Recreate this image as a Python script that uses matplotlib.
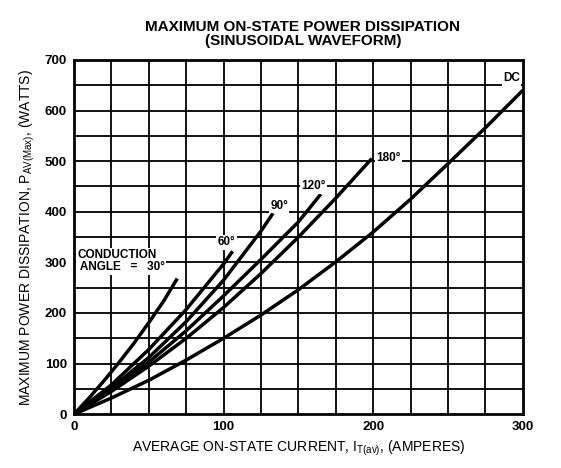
import numpy as np
import matplotlib
matplotlib.use('Agg')
import matplotlib.pyplot as plt

plt.rcParams['font.family'] = ['Liberation Sans', 'DejaVu Sans']

# 讀圖得到的曲線 (電流 A, 功率 W)
x_30 = [0, 10, 20, 30, 40, 50, 60, 69]
y_30 = [0, 32, 66, 102, 140, 181, 224, 268]

x_60 = [0, 25, 50, 75, 100, 106]
y_60 = [0, 58, 128, 207, 297, 322]

x_90 = [0, 25, 50, 75, 100, 125, 133]
y_90 = [0, 52, 112, 183, 265, 362, 397]

x_120 = [0, 25, 50, 75, 100, 125, 150, 165]
y_120 = [0, 48, 103, 165, 234, 306, 380, 435]

x_180 = [0, 25, 50, 75, 100, 125, 150, 175, 199]
y_180 = [0, 45, 95, 150, 211, 278, 350, 427, 505]

x_dc = [0, 25, 50, 75, 100, 125, 150, 175, 200, 225, 250, 275, 300]
y_dc = [0, 32, 67, 107, 150, 196, 246, 301, 360, 425, 495, 566, 640]

x_ticks = [0, 100, 200, 300]
y_ticks = [0, 100, 200, 300, 400, 500, 600, 700]

fig = plt.figure(figsize=(5.61, 4.68), dpi=100)
ax = fig.add_axes([0.132, 0.115, 0.800, 0.757])

ax.set_xlim(0, 300)
ax.set_ylim(0, 700)

# 格線
for gx in np.arange(25, 300, 25):
    ax.axvline(gx, color='black', lw=1.3, zorder=1)
for gy in np.arange(50, 700, 50):
    ax.axhline(gy, color='black', lw=1.3, zorder=1)

for xs, ys in [(x_30, y_30), (x_60, y_60), (x_90, y_90),
               (x_120, y_120), (x_180, y_180), (x_dc, y_dc)]:
    ax.plot(xs, ys, color='black', lw=2.5, zorder=3,
            solid_capstyle='butt', solid_joinstyle='round')

box = dict(facecolor='white', edgecolor='none', pad=1.0)
lab = dict(fontsize=8.5, fontweight='bold', zorder=4)
ax.text(2, 302, 'CONDUCTION\n ANGLE   =   30°', ha='left', va='center',
        linespacing=1.0, bbox=box, **lab)
ax.text(102, 340, '60°', ha='center', va='center', bbox=box, **lab)
ax.text(137, 412, '90°', ha='center', va='center', bbox=box, **lab)
ax.text(160, 450, '120°', ha='center', va='center', bbox=box, **lab)
ax.text(202, 506, '180°', ha='left', va='center', bbox=box, **lab)
ax.text(298, 664, 'DC', ha='right', va='center', bbox=box, **lab)

ax.set_xticks(x_ticks)
ax.set_yticks(y_ticks)
ax.tick_params(length=0, labelsize=9.5, pad=5)
for t in ax.get_xticklabels() + ax.get_yticklabels():
    t.set_fontweight('bold')
for s in ax.spines.values():
    s.set_linewidth(2.0)

ax.set_xlabel('AVERAGE ON-STATE CURRENT, I$_{\\mathregular{T(av)}}$, (AMPERES)',
              fontsize=10, labelpad=4)
ax.set_ylabel('MAXIMUM POWER DISSIPATION, P$_{\\mathregular{AV(Max)}}$, (WATTS)',
              fontsize=10, labelpad=6)

fig.text(0.54, 0.958, 'MAXIMUM ON-STATE POWER DISSIPATION\n(SINUSOIDAL WAVEFORM)',
         ha='center', va='top', fontsize=11, fontweight='bold', linespacing=1.0)

fig.savefig('out.png', dpi=100)
